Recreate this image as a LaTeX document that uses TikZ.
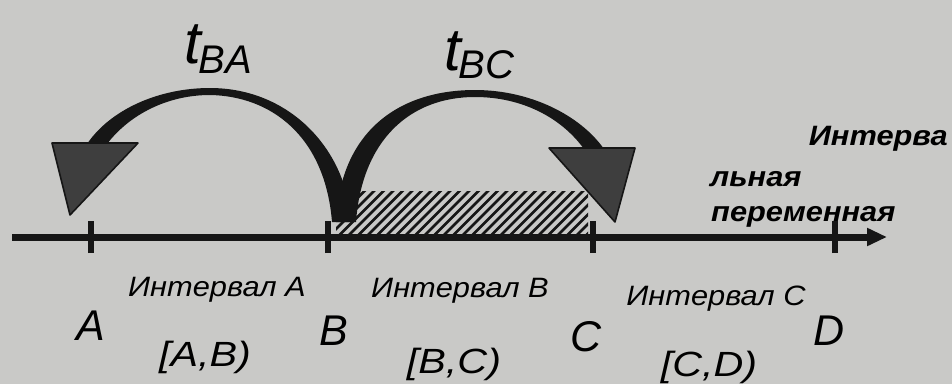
\documentclass[tikz,border=0pt]{standalone}
\usepackage{fontspec}
\setmainfont{Liberation Sans}
\newfontfamily\labfont[FakeStretch=1.1]{Liberation Sans}
\newfontfamily\widefont[FakeStretch=1.18]{Liberation Sans}
\usetikzlibrary{arrows.meta}
\definecolor{paper}{RGB}{201,201,199}
\definecolor{ink}{RGB}{22,22,22}
\definecolor{headgray}{RGB}{62,62,62}
\begin{document}
\begin{tikzpicture}[x=1pt,y=-1pt,
  tick/.style={ink,line width=6pt},
  bigletter/.style={anchor=base,inner sep=0pt,font=\fontsize{43}{43}\selectfont\itshape},
  intlabel/.style={anchor=base,inner sep=0pt,font=\widefont\fontsize{35}{35}\selectfont\itshape},
  smalllabel/.style={anchor=base,inner sep=0pt,font=\labfont\fontsize{28}{28}\selectfont\itshape},
  axislabel/.style={inner sep=0pt,font=\labfont\fontsize{28}{28}\selectfont\bfseries\itshape},
  arrowbody/.style={fill=ink},
  arrowhead/.style={fill=headgray,draw=ink,line width=1.6pt,line join=round}]
\fill[paper] (0,0) rectangle (952,384);
\useasboundingbox (0,0) rectangle (952,384);
% axis points
\coordinate (axs) at (12,237);
\coordinate (axe) at (887,237);
\coordinate (A) at (91,237);
\coordinate (B) at (328,237);
\coordinate (C) at (593,237);
\coordinate (D) at (835,237);
% hatched interval [B,C)
\begin{scope}
\clip (336,191) rectangle (588,234);
\foreach \i in {0,...,32}
  \draw[ink,line width=2.6pt] ({336+\i*9.5-45},236) -- ++(48,-48);
\end{scope}
% axis
\draw[ink,line width=7pt,-{Triangle[length=20pt,width=17pt]}] (axs) -- (axe);
\foreach \p in {A,B,C,D}
  \draw[tick] ([yshift=-16pt]\p) -- ([yshift=16pt]\p);
% arrow t_BA (from B back to A)
\fill[arrowbody] (351,222) .. controls (347,150) and (290,88) .. (210,88)
  .. controls (158,88) and (110,110) .. (87,144) -- (107,144)
  .. controls (130,114) and (168,95) .. (210,95)
  .. controls (270,96) and (325,135) .. (332,222) -- cycle;
\filldraw[arrowhead] (52,143) -- (138,143) -- (70,215) -- cycle;
% arrow t_BC (from B forward to C)
\fill[arrowbody] (336,222) .. controls (340,132) and (398,90) .. (475,90)
  .. controls (530,90) and (580,115) .. (604,149) -- (584,149)
  .. controls (560,116) and (520,97) .. (475,97)
  .. controls (410,97) and (362,140) .. (356,222) -- cycle;
\filldraw[arrowhead] (549,148) -- (635,148) -- (615,222) -- cycle;
% arrow labels
\node[anchor=base west,inner sep=0pt] (tba) at (184,63)
  {\itshape\fontsize{60}{60}\selectfont t\kern-2pt\raisebox{-10pt}{\fontsize{40}{40}\selectfont BA}};
\node[anchor=base west,inner sep=0pt] (tbc) at (444,70)
  {\itshape\fontsize{60}{60}\selectfont t\kern-2pt\raisebox{-8pt}{\fontsize{40}{40}\selectfont BC}};
% axis label
\node[axislabel,anchor=base east] (al1) at (948,145) {Интерва};
\node[axislabel,anchor=base west] (al2) at (710,186) {льная};
\node[axislabel,anchor=base west] (al3) at (711,221) {переменная};
% point letters
\node[bigletter] (lA) at (91,340) {A};
\node[bigletter] (lB) at (334,345) {B};
\node[bigletter] (lC) at (586,351) {C};
\node[bigletter] (lD) at (829,345) {D};
% interval names
\node[smalllabel] (iA) at (217,296) {Интервал A};
\node[smalllabel] (iB) at (460,297) {Интервал B};
\node[smalllabel] (iC) at (716,305) {Интервал C};
% interval notation
\node[intlabel] (nA) at (205,366) {[A,B)};
\node[intlabel] (nB) at (454,373) {[B,C)};
\node[intlabel] (nC) at (709,376) {[C,D)};
\end{tikzpicture}
\end{document}
